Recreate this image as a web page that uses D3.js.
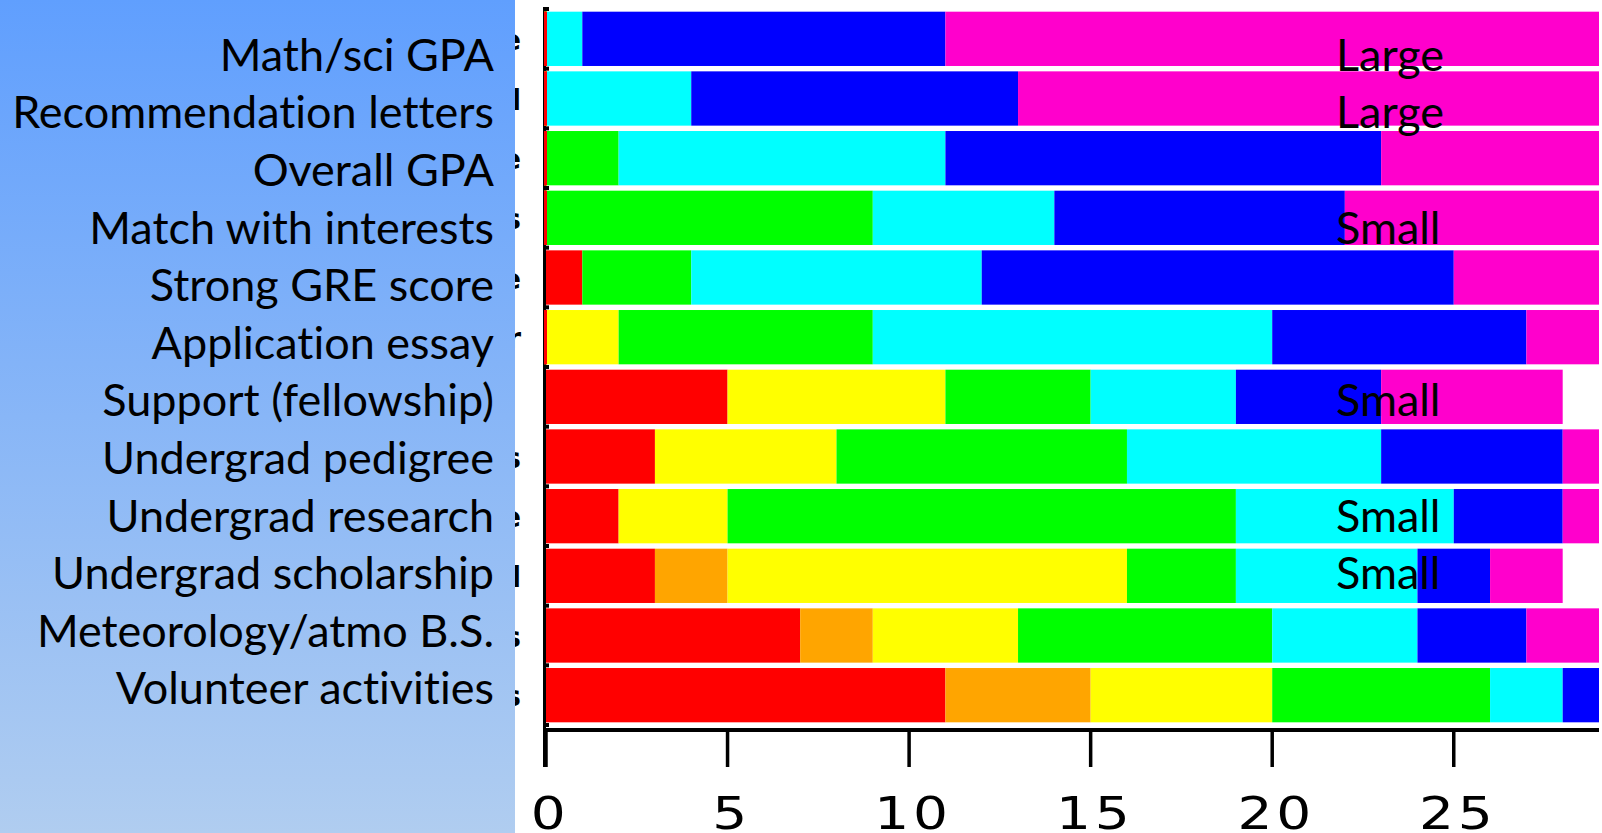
<!DOCTYPE html>
<html><head><meta charset="utf-8">
<script src="https://cdn.jsdelivr.net/npm/d3@7"></script>
<style>html,body{margin:0;padding:0;background:#fff;overflow:hidden} text{font-variant-ligatures:none;font-feature-settings:"liga" 0,"clig" 0}</style>
</head><body><svg id="c" width="1602" height="833"></svg>
<script>
// ---- data ----
const categories = ["Math/sci GPA","Recommendation letters","Overall GPA","Match with interests","Strong GRE score","Application essay","Support (fellowship)","Undergrad pedigree","Undergrad research","Undergrad scholarship","Meteorology/atmo B.S.","Volunteer activities"];
const seriesKeys = ["r1","r2","r3","r4","r5","r6","r7"];
const r1 = [0,0,0,0,1,0,5,3,2,3,7,11];     // red
const r2 = [0,0,0,0,0,0,0,0,0,2,2,4];      // orange
const r3 = [0,0,0,0,0,2,6,5,3,11,4,5];     // yellow
const r4 = [0,0,2,9,3,7,4,8,14,3,7,6];     // green
const r5 = [1,4,9,5,8,11,4,7,6,5,4,2];     // cyan
const r6 = [10,9,12,8,13,7,4,5,3,2,3,1];   // blue
const r7 = [18,16,6,7,4,2,5,1,1,2,2,0];    // magenta
const annotations = ["Large","Large","","Small","","","Small","","Small","Small","",""];
const hiddenLabelEnds = ["e","l","e","s","e","r","","s","e","l","s","s"];
const xTicks = [0,5,10,15,20,25];
const xMax = 29;
const colors = ["#ff0000","#ffa500","#ffff00","#00ff00","#00ffff","#0000ff","#ff00cc"];

// ---- build ----
const seriesVals = [r1,r2,r3,r4,r5,r6,r7];
const rows = categories.map((c,i)=>{const o={cat:c}; seriesKeys.forEach((k,j)=>o[k]=seriesVals[j][i]); return o;});
const stacked = d3.stack().keys(seriesKeys)(rows);

const svg = d3.select("#c");
const x = d3.scaleLinear().domain([0,xMax]).range([546,1599]);
const y = d3.scaleBand().domain(categories).range([9,725]).paddingInner(0.09).paddingOuter(0.045);
const ly = d3.scalePoint().domain(categories).range([70.7,704.3]);
const color = d3.scaleOrdinal().domain(seriesKeys).range(colors);

// hidden original label fragments (partly covered by the panel)
svg.append("g").selectAll("text").data(categories).join("text")
  .attr("x",521).attr("y",d=>y(d)+y.bandwidth()/2+11)
  .attr("text-anchor","end")
  .style("font-family","DejaVu Sans").style("font-weight","bold").style("font-size","28px")
  .text((d,i)=>hiddenLabelEnds[i]);

// left gradient panel
const defs = svg.append("defs");
const grad = defs.append("linearGradient").attr("id","pg").attr("x1",0).attr("y1",0).attr("x2",0).attr("y2",1);
grad.append("stop").attr("offset","0%").attr("stop-color","#609ffe");
grad.append("stop").attr("offset","100%").attr("stop-color","#b0cdf0");
svg.append("rect").attr("x",0).attr("y",0).attr("width",515).attr("height",833).attr("fill","url(#pg)");

// labels
const labelFont = "Lato, 'Open Sans', sans-serif";
const probe = svg.append("text").style("font-family",labelFont).style("font-size","100px").text("Recommendation letters");
const w100 = probe.node().getComputedTextLength();
probe.remove();
const fs = 100*482/w100;
svg.append("g").selectAll("text").data(categories).join("text")
  .attr("x",494).attr("y",d=>ly(d)).attr("text-anchor","end")
  .style("font-family",labelFont).style("font-size",fs+"px").attr("fill","#000")
  .text(d=>d);

// y axis line
svg.append("line").attr("x1",544.5).attr("x2",544.5).attr("y1",10).attr("y2",767)
  .attr("stroke","#000").attr("stroke-width",3);
// y ticks at band boundaries
const gap = y.step()*y.paddingInner();
const lastCat = categories[categories.length-1];
svg.append("g").selectAll("line").data(categories.concat(["__end"])).join("line")
  .attr("x1",543).attr("x2",549)
  .attr("y1",(d,i)=> i<categories.length ? y(d)-gap/2 : y(lastCat)+y.bandwidth()+gap/2)
  .attr("y2",(d,i)=> i<categories.length ? y(d)-gap/2 : y(lastCat)+y.bandwidth()+gap/2)
  .attr("stroke","#000").attr("stroke-width",4);

// bars
const barG = svg.append("g");
barG.selectAll("g").data(stacked).join("g").attr("fill",d=>color(d.key))
  .selectAll("rect").data(d=>d).join("rect")
  .attr("x",d=>x(d[0])).attr("width",d=>x(d[1])-x(d[0]))
  .attr("y",d=>y(d.data.cat)).attr("height",y.bandwidth());
// zero-value segments at the baseline drawn as thin lines (reverse order so first series is on top)
const zeroG = svg.append("g");
stacked.slice().reverse().forEach(s=>{
  zeroG.selectAll(null).data(s.filter(d=>d[0]===0 && d[1]===0)).join("line")
    .attr("x1",x(0)-0.5).attr("x2",x(0)-0.5)
    .attr("y1",d=>y(d.data.cat)).attr("y2",d=>y(d.data.cat)+y.bandwidth())
    .attr("stroke",color(s.key)).attr("stroke-width",3);
});

// x axis
const xAxis = svg.append("g").attr("transform","translate(0,730)");
xAxis.append("line").attr("x1",543).attr("x2",x(xMax)).attr("y1",0).attr("y2",0)
  .attr("stroke","#000").attr("stroke-width",4);
xAxis.selectAll("line.t").data(xTicks).join("line").attr("class","t")
  .attr("x1",d=>x(d)).attr("x2",d=>x(d)).attr("y1",0).attr("y2",37)
  .attr("stroke","#000").attr("stroke-width",3.5);
const ls = 3;
xAxis.selectAll("text").data(xTicks).join("text")
  .attr("transform",d=>`translate(${x(d)+4},99) scale(1.25,1)`)
  .attr("text-anchor","middle")
  .style("font-family","DejaVu Sans").style("font-size","44px").style("letter-spacing",ls+"px")
  .text(d=>d);

// annotations
svg.append("g").selectAll("text").data(categories).join("text")
  .attr("x",1336).attr("y",d=>ly(d))
  .style("font-family",labelFont).style("font-size",fs+"px").attr("fill","#000")
  .text((d,i)=>annotations[i]);
</script></body></html>
